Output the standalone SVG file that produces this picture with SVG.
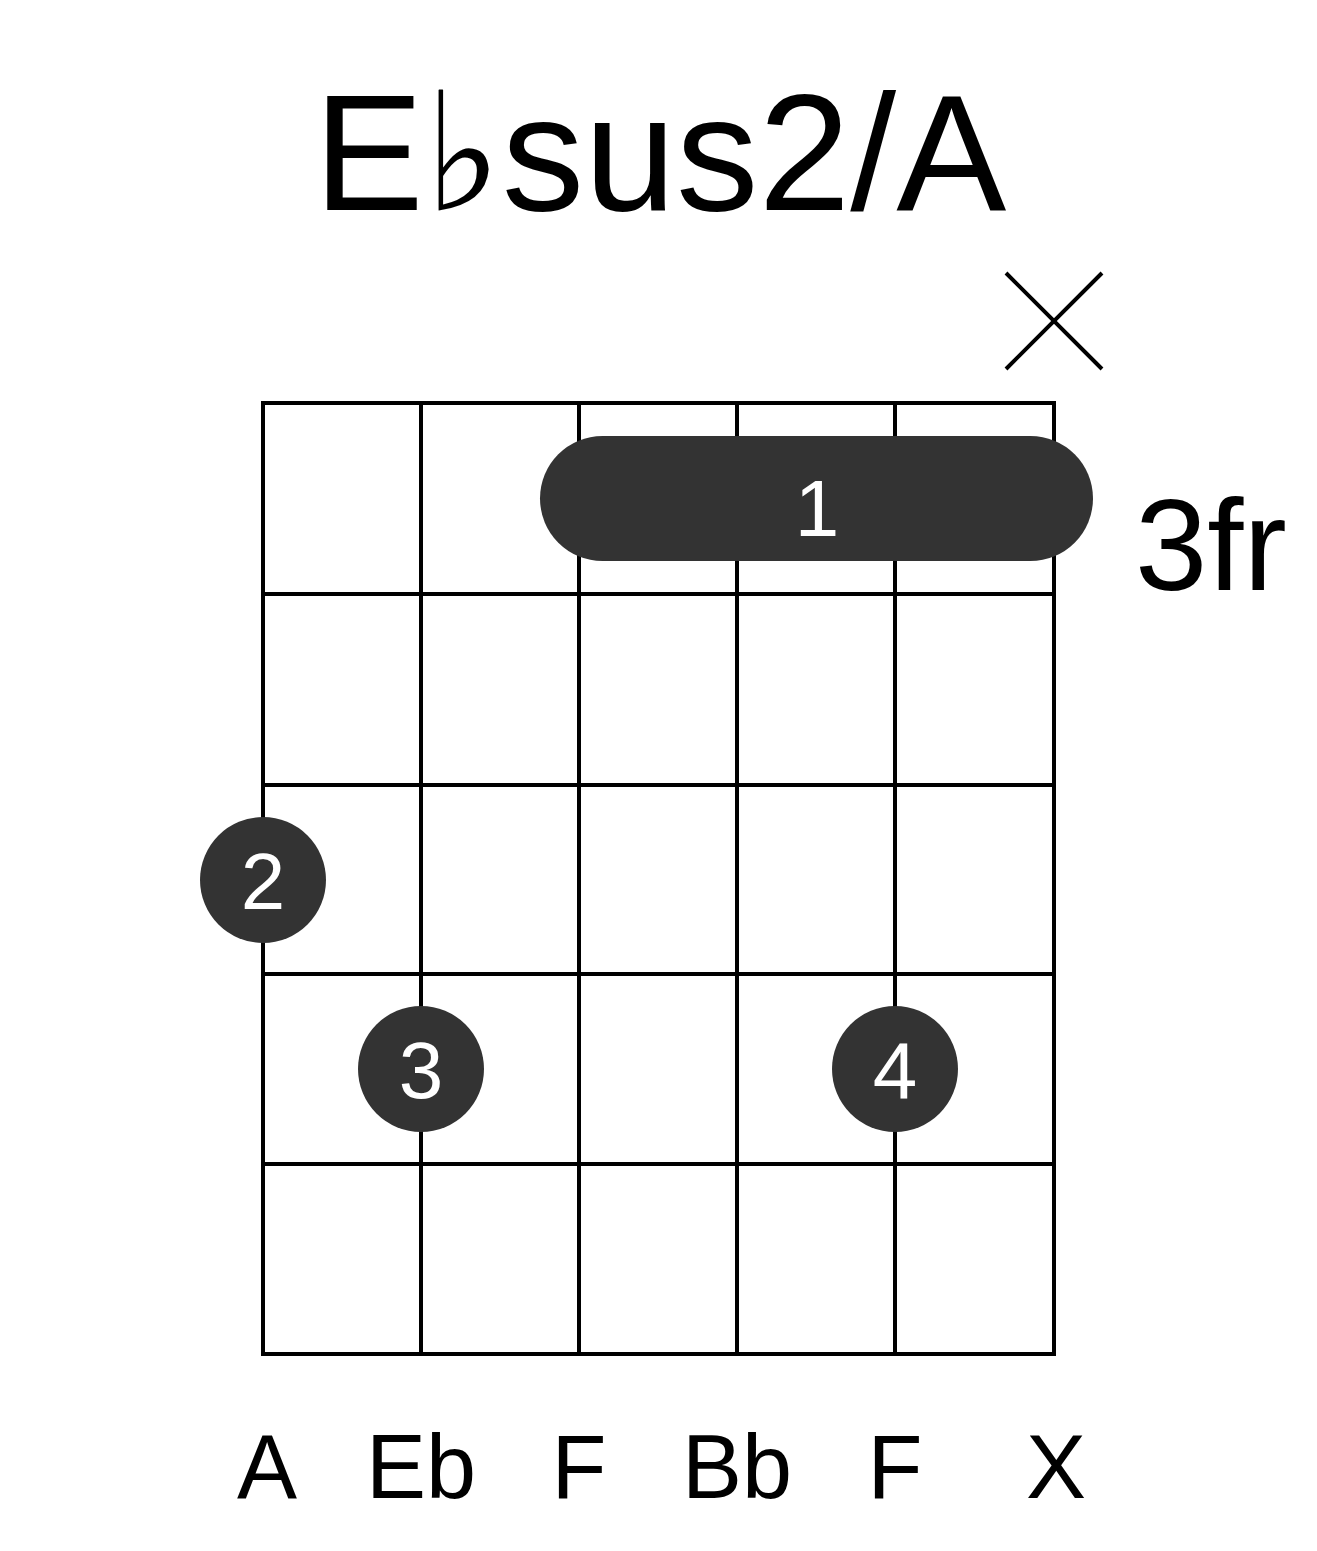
<svg xmlns="http://www.w3.org/2000/svg" width="1317" height="1551" viewBox="0 0 1317 1551">
<style>
text{font-family:"Liberation Sans",Arial,sans-serif;}
.g{stroke:#000;stroke-width:4;fill:none}
.d{fill:#333}
.n{fill:#fff;font-size:80px;text-anchor:middle}
.l{font-size:90px;text-anchor:middle}
</style>
<rect width="1317" height="1551" fill="#fff"/>
<text x="660" y="210" font-size="165" text-anchor="middle">E♭sus2/A</text>
<g id="mute"><path class="g" d="M1006 273L1102 369M1102 273L1006 369"/></g>
<g id="grid" class="g">
<rect x="263" y="403" width="791" height="951"/>
<path d="M421 403V1354M579 403V1354M737 403V1354M895 403V1354M263 594H1054M263 785H1054M263 974H1054M263 1164H1054"/>
</g>
<g id="barre"><rect class="d" x="540" y="436" width="553" height="125" rx="62.5"/><text class="n" x="817" y="536">1</text></g>
<g id="f2"><circle class="d" cx="263" cy="880" r="63"/><text class="n" x="263" y="909">2</text></g>
<g id="f3"><circle class="d" cx="421" cy="1069" r="63"/><text class="n" x="421" y="1098">3</text></g>
<g id="f4"><circle class="d" cx="895" cy="1069" r="63"/><text class="n" x="895" y="1098">4</text></g>
<text x="1135" y="590" font-size="130">3fr</text>
<g id="labels">
<text class="l" x="267" y="1498">A</text>
<text class="l" x="421" y="1498">Eb</text>
<text class="l" x="579" y="1498">F</text>
<text class="l" x="737" y="1498">Bb</text>
<text class="l" x="895" y="1498">F</text>
<text class="l" x="1056" y="1498">X</text>
</g>
</svg>
